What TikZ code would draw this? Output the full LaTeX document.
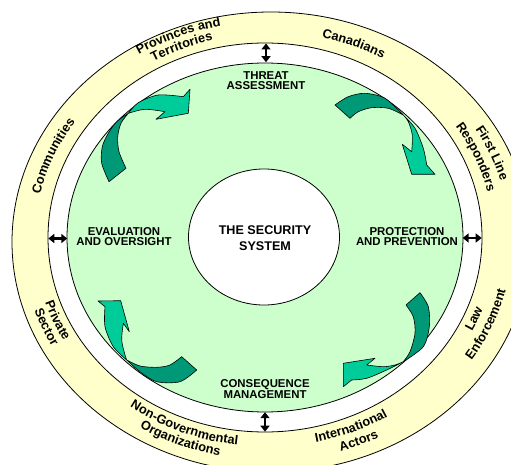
\documentclass[tikz,border=0pt]{standalone}
\usepackage{fontspec}
\setmainfont{Liberation Sans}
\usetikzlibrary{decorations.text,arrows.meta}
\definecolor{ringyellow}{RGB}{255,255,204}
\definecolor{cyclegreen}{RGB}{204,255,204}
\definecolor{arrowdark}{RGB}{0,153,119}
\definecolor{arrowlight}{RGB}{0,204,153}
\newcommand\ringfont{\bfseries\fontsize{12.8}{12.8}\selectfont}
% #1 = fraction across ring, #2 = start angle, #3 = end angle, #4 = text
\newcommand\ringlabel[4]{\path[decorate,decoration={text along path,text align=center,text={|\ringfont|#4}}]
  ({265+6*#1+(217+42*#1)*cos(#2)},{226.5-4.5*#1+(194.5+35.5*#1)*sin(#2)})
  arc[start angle=#2,end angle=#3,x radius={217+42*#1},y radius={194.5+35.5*#1}];}
\begin{document}
\begin{tikzpicture}[x=1pt,y=1pt,
  edgeline/.style={draw=black,line width=0.8pt},
  phase/.style={font=\bfseries\fontsize{11.4}{9.6}\selectfont,align=center,inner sep=0pt},
  core/.style={font=\bfseries\fontsize{12.6}{16}\selectfont,align=center,inner sep=0pt},
  link/.style={line width=2.4pt,{Triangle[length=6pt,width=9pt]}-{Triangle[length=6pt,width=9pt]}},
  tailpart/.style={fill=arrowdark,draw=black,line width=0.6pt,line join=round},
  headpart/.style={fill=arrowlight,draw=black,line width=0.6pt,line join=round}]
\clip (0,0) rectangle (511,464);
\fill[white] (0,0) rectangle (511,464);
% rings
\filldraw[fill=ringyellow,edgeline] (271,222) ellipse[x radius=259,y radius=230];
\filldraw[fill=white,edgeline] (265,226.5) ellipse[x radius=217,y radius=194.5];
\filldraw[fill=cyclegreen,edgeline] (265,226.5) ellipse[x radius=198,y radius=174.5];
\filldraw[fill=white,edgeline] (264,227) ellipse[x radius=75.5,y radius=68];
% ring labels
\ringlabel{0.69}{152.5}{72.5}{Provinces and}
\ringlabel{0.27}{152.5}{72.5}{Territories}
\ringlabel{0.37}{107.5}{27.5}{Canadians}
\ringlabel{0.58}{62.5}{-17.5}{First Line}
\ringlabel{0.24}{62.5}{-17.5}{Responders}
\ringlabel{0.31}{-62.5}{17.5}{Law}
\ringlabel{0.63}{-62.5}{17.5}{Enforcement}
\ringlabel{0.37}{-107.5}{-27.5}{International}
\ringlabel{0.71}{-107.5}{-27.5}{Actors}
\ringlabel{0.37}{-152.5}{-72.5}{Non-Governmental}
\ringlabel{0.71}{-152.5}{-72.5}{Organizations}
\ringlabel{0.39}{-197.5}{-117.5}{Private}
\ringlabel{0.73}{-197.5}{-117.5}{Sector}
\ringlabel{0.37}{197.5}{117.5}{Communities}
% curved arrows: top left
\filldraw[tailpart] (109,282.3) -- (126,295.7) -- plot[smooth] coordinates {(126,295.7) (119,312.3) (117.7,327.3) (121,340.7) (128.3,350.7)} -- plot[smooth] coordinates {(128.3,350.7) (116.7,342.3) (108.3,330.7) (102.3,317.3) (101.7,300.7) (109,282.3)} -- cycle;
\filldraw[headpart] (128.3,350.7) -- plot[smooth] coordinates {(128.3,350.7) (138.3,361.3) (158.3,369) (183.3,367.3)} -- (190,374.7) -- (188.3,350.7) -- (156,344.7) -- (165,352.3) -- plot[smooth] coordinates {(165,352.3) (145,354.7) (128.3,350.7)} -- cycle;
% top right
\filldraw[tailpart] (335,359) -- plot[smooth] coordinates {(335,359) (348.3,367.3) (365,370.7) (385,365.7) (403.3,349)} -- plot[smooth] coordinates {(403.3,349) (388.3,355.7) (371.7,356.3) (358.3,352.3) (350,345.7)} -- cycle;
\filldraw[headpart] (403.3,349) -- plot[smooth] coordinates {(403.3,349) (415,335.7) (423.3,315.7) (426.7,299)} -- (435,289.7) -- (411.7,289.7) -- (402.3,319.7) -- (411.7,312.3) -- plot[smooth] coordinates {(411.7,312.3) (412.3,329) (408.3,342.3) (403.3,349)} -- cycle;
% bottom right
\filldraw[tailpart] (406,159) -- (420,171.3) -- plot[smooth] coordinates {(420,171.3) (428.3,157.3) (429.3,137.3) (423.3,117.3) (403.3,102.3)} -- plot[smooth] coordinates {(403.3,102.3) (410,112.3) (415,130.7) (413.3,147.3) (406,159)} -- cycle;
\filldraw[headpart] (403.3,102.3) -- plot[smooth] coordinates {(403.3,102.3) (386.7,94) (366.7,85.7) (351.7,84)} -- (343.3,77.3) -- (343.3,100.7) -- (375,105.7) -- (366.7,99) -- plot[smooth] coordinates {(366.7,99) (383.3,97.3) (395,99) (403.3,102.3)} -- cycle;
% bottom left
\filldraw[tailpart] (181.7,107.3) -- (196.7,94) -- plot[smooth] coordinates {(196.7,94) (180,82.3) (156.7,82.3) (140,92.3) (126.7,104)} -- plot[smooth] coordinates {(126.7,104) (140,98) (156.7,96.7) (170,99) (181.7,107.3)} -- cycle;
\filldraw[headpart] (126.7,104) -- plot[smooth] coordinates {(126.7,104) (113.3,117.3) (105,137.3) (105,157.3)} -- (98,163) -- (120.7,163.3) -- (129.3,132.3) -- (123.3,140.7) -- plot[smooth] coordinates {(123.3,140.7) (121.7,124) (125,109) (126.7,104)} -- cycle;
% double arrows
\coordinate (topOut) at (266,420.5);
\coordinate (topIn) at (266,401.8);
\coordinate (botOut) at (265,32.3);
\coordinate (botIn) at (265,51.8);
\coordinate (leftOut) at (48.3,225.5);
\coordinate (leftIn) at (67.3,225.5);
\coordinate (rightOut) at (481.7,226);
\coordinate (rightIn) at (462.7,226);
\draw[link] (topOut) -- (topIn);
\draw[link] (botOut) -- (botIn);
\draw[link] (leftOut) -- (leftIn);
\draw[link] (rightOut) -- (rightIn);
% labels
\node[phase] (threat) at (266,383.3) {THREAT\\ASSESSMENT};
\node[phase] (evaluation) at (124,227.5) {EVALUATION\\AND OVERSIGHT};
\node[phase] (protection) at (407,227.5) {PROTECTION\\AND PREVENTION};
\node[phase] (consequence) at (265,75) {CONSEQUENCE\\MANAGEMENT};
\node[core] (system) at (265,226.3) {THE SECURITY\\SYSTEM};
\end{tikzpicture}
\end{document}
